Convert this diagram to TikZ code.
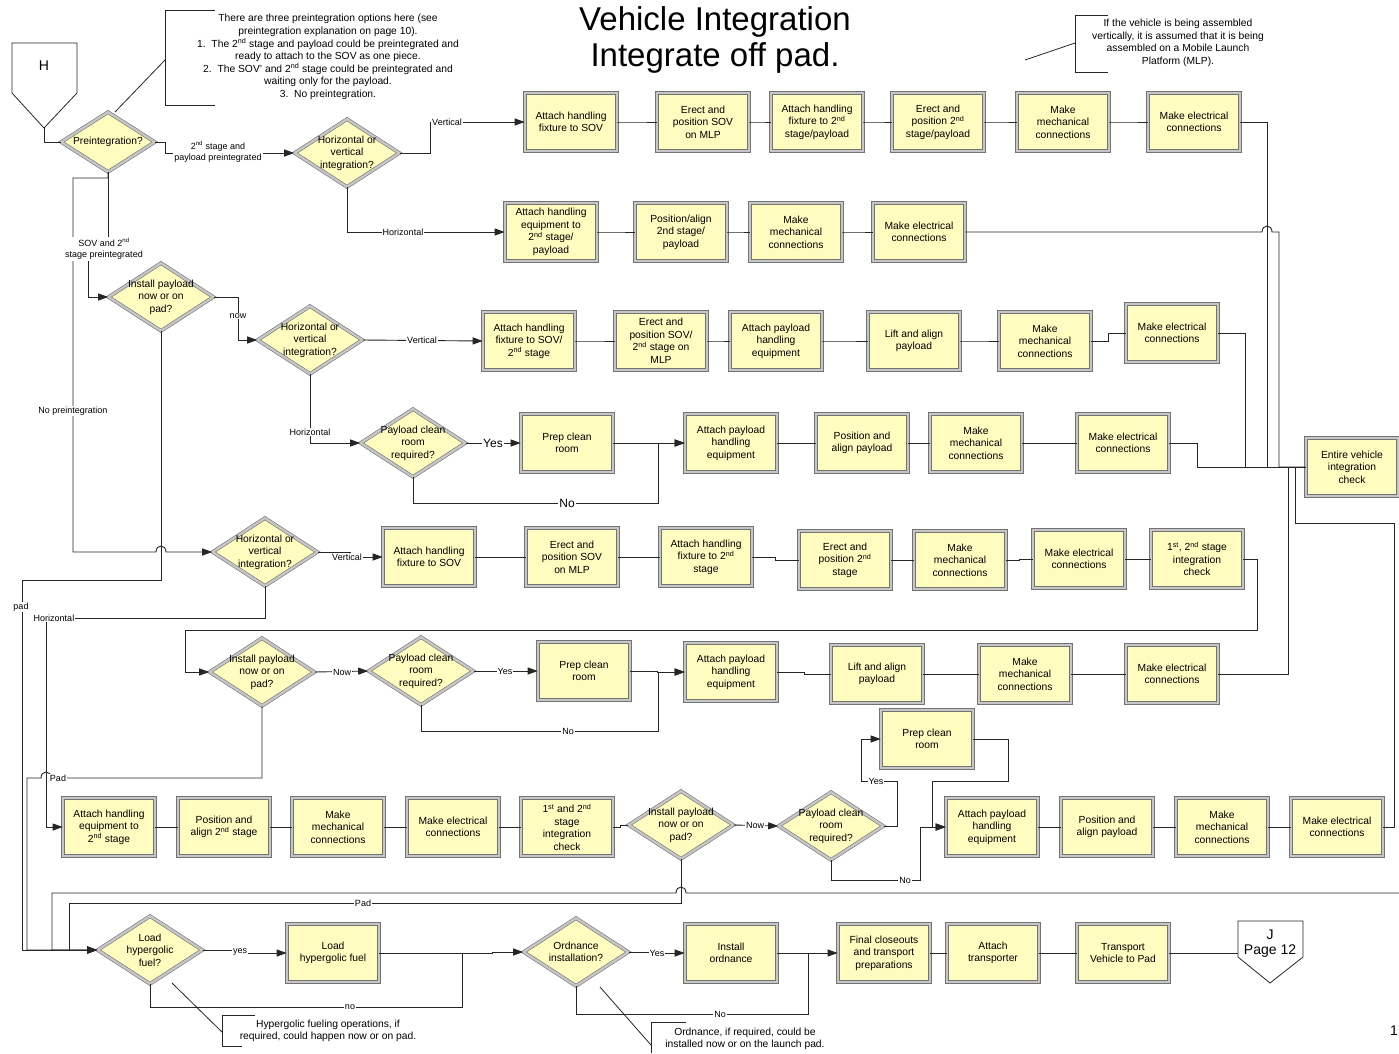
\documentclass[tikz,border=0pt]{standalone}
\usepackage{fontspec}
\setmainfont{Liberation Sans}
\usetikzlibrary{calc,arrows.meta,shapes.geometric}

\newcommand{\ndsup}{\textsuperscript{nd}}
\newcommand{\stsup}{\textsuperscript{st}}

\tikzset{
  proc/.style={rectangle, draw=black!55, double=gray!45, double distance=2.4pt,
    line width=0.6pt, fill=yellow!25, minimum width=92pt, minimum height=58pt,
    inner sep=1pt, align=center, font=\fontsize{10.3}{12.5}\selectfont},
  dec/.style={diamond, draw=black!55, double=gray!45, double distance=2.4pt,
    line width=0.6pt, fill=yellow!25, minimum width=105pt, minimum height=68pt,
    inner sep=0pt},
  dtxt/.style={align=center, inner sep=0pt, font=\fontsize{10.3}{12.5}\selectfont},
  con/.style={draw=black!85, line width=0.9pt},
  arr/.style={con, -{Triangle[length=10pt,width=7pt]}},
  lbl/.style={fill=white, inner sep=1pt, align=center, font=\fontsize{9}{11}\selectfont},
  note/.style={align=center, inner sep=0pt, font=\fontsize{10.3}{12.6}\selectfont},
  jog/.style={to path={-| ($(\tikztostart)!0.5!(\tikztotarget)$) |- (\tikztotarget)}}
}

\begin{document}
\begin{tikzpicture}[x=1pt,y=-1pt]
  \fill[white] (0,0) rectangle (1399,1053);
  \useasboundingbox (0,0) rectangle (1399,1053);

  \node[font=\fontsize{33}{36}\selectfont, align=center] (title) at (715,40)
    {Vehicle Integration\\Integrate off pad.};

  % notes
  \node[note] (n1) at (328,57) {There are three preintegration options here (see\\
    preintegration explanation on page 10).\\
    1.\ \ The 2\ndsup{} stage and payload could be preintegrated and\\
    ready to attach to the SOV as one piece.\\
    2.\ \ The SOV' and 2\ndsup{} stage could be preintegrated and\\
    waiting only for the payload.\\
    3.\ \ No preintegration.};
  \draw[con,line width=0.8pt] (215,10) -- (165,10) -- (165,105) -- (215,105);
  \draw[con,line width=0.8pt] (165,60) -- (115,112);
  \node[note] (n2) at (1178,43) {If the vehicle is being assembled\\
    vertically, it is assumed that it is being\\
    assembled on a Mobile Launch\\Platform (MLP).};
  \draw[con,line width=0.8pt] (1108,15) -- (1075,15) -- (1075,72) -- (1108,72);
  \draw[con,line width=0.8pt] (1075,43) -- (1025,60);
  \node[note] (n3) at (328,1031) {Hypergolic fueling operations, if\\
    required, could happen now or on pad.};
  \draw[con,line width=0.8pt] (255,1015) -- (222,1015) -- (222,1046) -- (242,1046);
  \draw[con,line width=0.8pt] (222,1032) -- (172,983);
  \node[note] (n4) at (745,1039) {Ordnance, if required, could be\\
    installed now or on the launch pad.};
  \draw[con,line width=0.8pt] (686,1022) -- (651,1022) -- (651,1053);
  \draw[con,line width=0.8pt] (651,1045) -- (600,987);
  \node[anchor=east,font=\fontsize{14}{16}\selectfont,inner sep=1pt] (pg) at (1399,1031) {1};

  % off-page connectors
  \draw[con,line width=0.8pt] (12,43) -- (77,43) -- (77,93) -- (44,128) -- (12,93) -- cycle;
  \node[font=\fontsize{14}{16}\selectfont] (H) at (44,66) {H};
  \coordinate (Htip) at (44,128);
  \draw[con,line width=0.8pt] (1238,921) -- (1303,921) -- (1303,957) -- (1270,983) -- (1238,957) -- cycle;
  \node[font=\fontsize{14}{15}\selectfont, align=center] (J) at (1270,944) {J\\Page 12};
  \coordinate (Jin) at (1238,953);

  % decisions
  \node[dec, minimum width=94pt, minimum height=60pt,
    label={[dtxt]center:Preintegration?}] (pre) at (108,142) {};
  \foreach \n/\x/\y/\txt in {
    hv1/347/153/{Horizontal or\\vertical\\integration?},
    ip1/161/297/{Install payload\\now or on\\pad?},
    hv2/310/340/{Horizontal or\\vertical\\integration?},
    pc1/413/443/{Payload clean\\room\\required?},
    hv3/265/552/{Horizontal or\\vertical\\integration?},
    ip2/262/672/{Install payload\\now or on\\pad?},
    pc2/421/671/{Payload clean\\room\\required?},
    ip3/681/825/{Install payload\\now or on\\pad?},
    pc3/831/826/{Payload clean\\room\\required?},
    ld/150/950/{Load\\hypergolic\\fuel?},
    od/576/952/{Ordnance\\installation?}}
    \node[dec, label={[dtxt]center:{\txt}}] (\n) at (\x,\y) {};

  % process boxes
  \foreach \n/\x/\y/\txt in {
    b11/571/122/{Attach handling\\fixture to SOV},
    b12/703/122/{Erect and\\position SOV\\on MLP},
    b13/817/122/{Attach handling\\fixture to 2\ndsup\\stage/payload},
    b14/938/122/{Erect and\\position 2\ndsup\\stage/payload},
    b15/1063/122/{Make\\mechanical\\connections},
    b16/1194/122/{Make electrical\\connections},
    b21/551/232/{Attach handling\\equipment to\\2\ndsup{} stage/\\payload},
    b22/681/232/{Position/align\\2nd stage/\\payload},
    b23/796/232/{Make\\mechanical\\connections},
    b24/919/232/{Make electrical\\connections},
    b31/529/341/{Attach handling\\fixture to SOV/\\2\ndsup{} stage},
    b32/661/341/{Erect and\\position SOV/\\2\ndsup{} stage on\\MLP},
    b33/776/341/{Attach payload\\handling\\equipment},
    b34/914/341/{Lift and align\\payload},
    b35/1045/341/{Make\\mechanical\\connections},
    b36/1172/333/{Make electrical\\connections},
    prep1/567/443/{Prep clean\\room},
    ap1/731/443/{Attach payload\\handling\\equipment},
    b43/862/443/{Position and\\align payload},
    b44/976/443/{Make\\mechanical\\connections},
    b45/1123/443/{Make electrical\\connections},
    check/1352/467/{Entire vehicle\\integration\\check},
    b51/429/557/{Attach handling\\fixture to SOV},
    b52/572/557/{Erect and\\position SOV\\on MLP},
    b53/706/557/{Attach handling\\fixture to 2\ndsup\\stage},
    b54/845/560/{Erect and\\position 2\ndsup\\stage},
    b55/960/560/{Make\\mechanical\\connections},
    b56/1079/559/{Make electrical\\connections},
    b57/1197/559/{1\stsup, 2\ndsup{} stage\\integration\\check},
    prep2/584/671/{Prep clean\\room},
    ap2/731/672/{Attach payload\\handling\\equipment},
    b63/877/674/{Lift and align\\payload},
    b64/1025/674/{Make\\mechanical\\connections},
    b65/1172/674/{Make electrical\\connections},
    prep3/927/739/{Prep clean\\room},
    b81/109/827/{Attach handling\\equipment to\\2\ndsup{} stage},
    b82/224/827/{Position and\\align 2\ndsup{} stage},
    b83/338/827/{Make\\mechanical\\connections},
    b84/453/827/{Make electrical\\connections},
    b85/567/827/{1\stsup{} and 2\ndsup\\stage\\integration\\check},
    ap3/992/827/{Attach payload\\handling\\equipment},
    b87/1107/827/{Position and\\align payload},
    b88/1222/827/{Make\\mechanical\\connections},
    b89/1337/827/{Make electrical\\connections},
    b91/333/953/{Load\\hypergolic fuel},
    b92/731/953/{Install\\ordnance},
    b93/884/953/{Final closeouts\\and transport\\preparations},
    b94/993/953/{Attach\\transporter},
    b95/1123/953/{Transport\\Vehicle to Pad}}
    \node[proc] (\n) at (\x,\y) {\txt};

  % chains without arrows
  \foreach \a/\b in {b11/b12,b12/b13,b13/b14,b14/b15,b15/b16,
      b21/b22,b22/b23,b23/b24,b31/b32,b32/b33,b33/b34,b34/b35,b35/b36,
      ap1/b43,b43/b44,b44/b45,b51/b52,b52/b53,b53/b54,b54/b55,b55/b56,b56/b57,
      ap2/b63,b63/b64,b64/b65,b81/b82,b82/b83,b83/b84,b84/b85,b85/ip3,
      ap3/b87,b87/b88,b88/b89,b93/b94,b94/b95}
    \draw[con] (\a.east) to[jog] (\b.west);

  % decisions and branches
  \draw[con] (Htip) |- (pre.west);
  \draw[arr] (pre.east) -- (165,142) |- (hv1.west);
  \draw[arr] (hv1.east) -| (430,122) -- (b11.west);
  \draw[arr] (hv1.south) |- (b21.west);
  \draw[arr] (pre.south) |- (88,249) |- (ip1.west);
  \draw[arr] (pre.south) -- (108,178) -| (73,552) -- (156,552)
    .. controls (156,544) and (166,544) .. (166,552) -- (hv3.west);
  \draw[arr] (ip1.east) -| (238,340) -- (hv2.west);
  \draw[arr] (ip1.south) |- (22,580) |- (ld.west);
  \draw[arr] (hv2.east) -- (b31.west);
  \draw[arr] (hv2.south) |- (pc1.west);
  \draw[arr] (pc1.east) -- (prep1.west);
  \draw[arr] (pc1.south) |- (658,503) |- (ap1.west);
  \draw[arr] (prep1.east) -- (ap1.west);
  \draw[arr] (hv3.east) to[jog] (b51.west);
  \draw[arr] (hv3.south) |- (46,618) |- (b81.west);
  \draw[arr] (b57.east) -| (1257,630) -| (185,672) -- (ip2.west);
  \draw[arr] (ip2.east) -- (pc2.west);
  \draw[arr] (pc2.east) -- (prep2.west);
  \draw[arr] (pc2.south) |- (658,731) |- (ap2.west);
  \draw[arr] (prep2.east) to[jog] (ap2.west);
  \draw[arr] (ip2.south) |- (51,778) .. controls (51,770) and (41,770) .. (41,778)
    -- (27,778) |- (ld.west);
  \draw[arr] (ip3.east) -- (pc3.west);
  \draw[arr] (pc3.east) -| (897,781) -| (861,739) -- (prep3.west);
  \draw[arr] (prep3.east) -| (1008,781) -| (932,827) -- (ap3.west);
  \draw[arr] (pc3.south) |- (920,880) |- (ap3.west);
  \draw[arr] (ip3.south) |- (69,903) |- (ld.west);
  \coordinate (rexit) at (1399,893);
  \draw[arr] (rexit) -- (686,893) .. controls (686,885) and (676,885) .. (676,893)
    -- (52,893) |- (ld.west);

  % into the final check
  \draw[con] (b16.east) -| (1267,467) -- (check.west);
  \draw[con] (b24.east) -- (1262,232) .. controls (1262,224) and (1272,224) .. (1272,232)
    -- (1279,232) |- (check.west);
  \draw[con] (b36.east) -| (1245,467) -- (check.west);
  \draw[con] (b45.east) -| (1197,467) -- (check.west);
  \draw[con] (b65.east) -| (1288,467) -- (check.west);
  \draw[con] (b89.east) -| (1394,523) -| (1295,467) -- (check.west);

  % bottom row
  \draw[arr] (ld.east) to[jog] (b91.west);
  \coordinate (jn1) at (462,953);
  \draw[con] (ld.south) |- (462,1007) -- (jn1);
  \draw[arr] (b91.east) -- (jn1) to[jog] (od.west);
  \draw[arr] (od.east) to[jog] (b92.west);
  \coordinate (jn2) at (808,953);
  \draw[con] (od.south) |- (808,1014) -- (jn2);
  \draw[arr] (b92.east) -- (jn2) -- (b93.west);
  \draw[con] (b95.east) -- (Jin);

  % branch labels
  \node[lbl] (l1) at (218,152) {2\ndsup{} stage and\\payload preintegrated};
  \node[lbl] (l2) at (447,122) {Vertical};
  \node[lbl] (l3) at (403,232) {Horizontal};
  \node[lbl] (l4) at (104,249) {SOV and 2\ndsup\\stage preintegrated};
  \node[lbl] (l5) at (73,411) {No preintegration};
  \node[lbl] (l6) at (238,316) {now};
  \node[lbl] (l7) at (422,340) {Vertical};
  \node[lbl] (l8) at (310,432) {Horizontal};
  \node[lbl,font=\fontsize{12}{13}\selectfont] (l9) at (493,443) {Yes};
  \node[lbl,font=\fontsize{12}{13}\selectfont] (l10) at (567,503) {No};
  \node[lbl] (l11) at (347,557) {Vertical};
  \node[lbl] (l12) at (21,607) {pad};
  \node[lbl] (l13) at (54,618) {Horizontal};
  \node[lbl] (l14) at (342,672) {Now};
  \node[lbl] (l15) at (505,671) {Yes};
  \node[lbl] (l16) at (568,731) {No};
  \node[lbl] (l17) at (58,778) {Pad};
  \node[lbl] (l18) at (755,825) {Now};
  \node[lbl] (l19) at (876,781) {Yes};
  \node[lbl] (l20) at (905,880) {No};
  \node[lbl] (l21) at (363,903) {Pad};
  \node[lbl] (l22) at (240,952) {yes};
  \node[lbl] (l23) at (350,1007) {no};
  \node[lbl] (l24) at (657,953) {Yes};
  \node[lbl] (l25) at (720,1014) {No};
\end{tikzpicture}
\end{document}
